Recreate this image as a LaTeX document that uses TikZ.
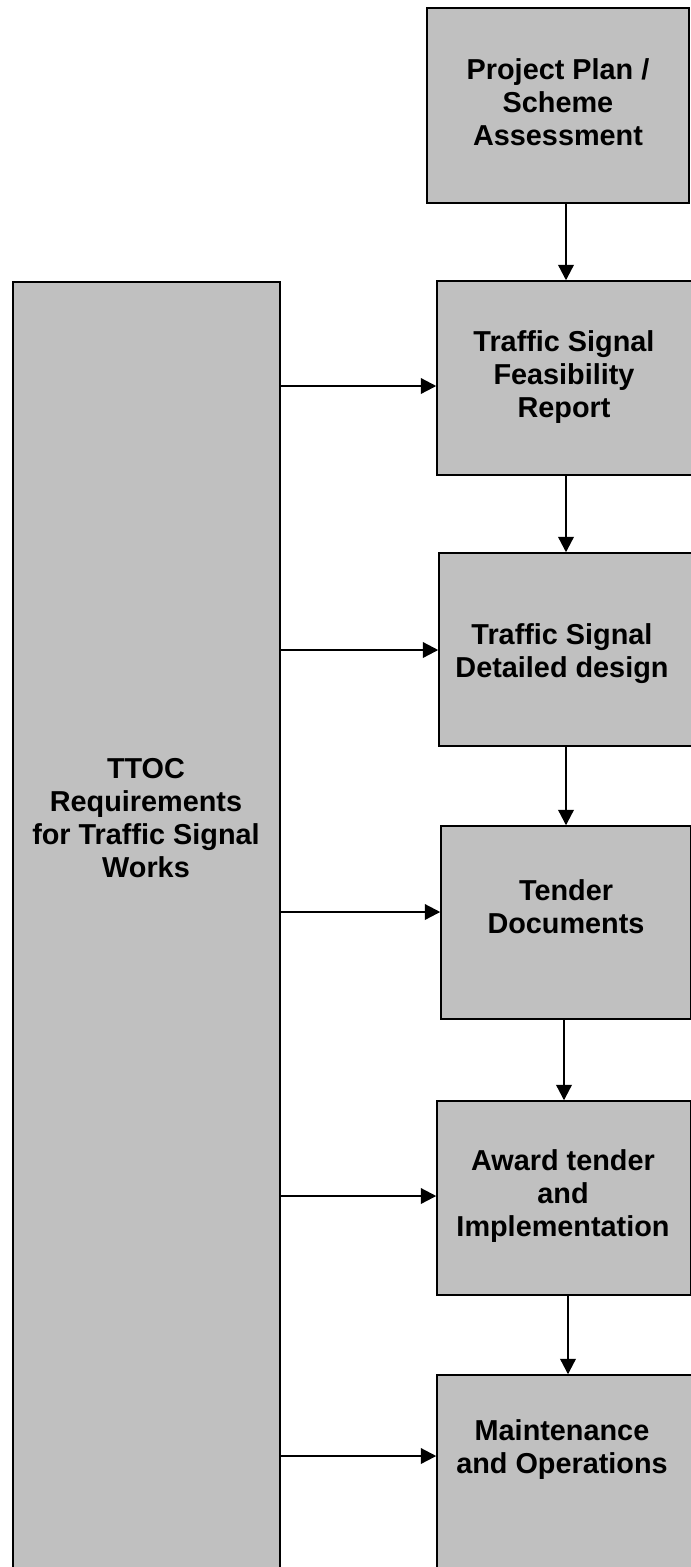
\documentclass[tikz,border=0pt]{standalone}
\usepackage{fontspec}
\setmainfont{Liberation Sans}
\usetikzlibrary{arrows.meta}

\definecolor{panelgrey}{RGB}{192,192,192}

\begin{document}
\begin{tikzpicture}[x=0.025cm, y=-0.025cm,
    panel/.style={draw=black, fill=panelgrey, line width=1pt, inner sep=0pt},
    caption/.style={font=\bfseries\fontsize{20.5}{23.5}\selectfont, align=center},
    flow/.style={line width=1.6pt, -{Triangle[length=11pt, width=11pt]}}]

\useasboundingbox (0,0) rectangle (691,1567);

% right column
\node[panel, minimum width=6.55cm,  minimum height=4.875cm] (proj)  at (558,105.5) {};
\node[panel, minimum width=6.45cm,  minimum height=4.85cm]  (feas)  at (566,378)   {};
\node[panel, minimum width=6.35cm,  minimum height=4.825cm] (det)   at (566,649.5) {};
\node[panel, minimum width=6.25cm,  minimum height=4.825cm] (tend)  at (566,922.5) {};
\node[panel, minimum width=6.35cm,  minimum height=4.85cm]  (award) at (564,1198)  {};
\node[panel, minimum width=6.55cm,  minimum height=5.5cm]   (maint) at (568,1485)  {};

% left column
\node[panel, minimum width=6.675cm, minimum height=32.8cm] (ttoc) at (146.5,938) {};

% texts
\node[caption] (projT)  at (558,102)  {Project Plan /\\Scheme\\Assessment};
\node[caption] (feasT)  at (564,377)  {Traffic Signal\\Feasibility\\Report};
\node[caption] (detT)   at (562,654)  {Traffic Signal\\Detailed design};
\node[caption] (tendT)  at (566,907)  {Tender\\Documents};
\node[caption] (awardT) at (563,1196) {Award tender\\and\\Implementation};
\node[caption] (maintT) at (562,1450) {Maintenance\\and Operations};
\node[caption] (ttocT)  at (146,818)  {TTOC\\Requirements\\for Traffic Signal\\Works};

% down the column
\draw[flow] (proj.south -| feas.north) -- (feas.north);
\draw[flow] (feas.south -| det.north)  -- (det.north);
\draw[flow] (det.south -| tend.north)  -- (tend.north);
\draw[flow] (tend.south -| award.north) -- (award.north);
\draw[flow] (award.south -| maint.north) -- (maint.north);

% requirements feed each stage
\draw[flow] (ttoc.east |- 0,386)  -- (feas.west |- 0,386);
\draw[flow] (ttoc.east |- 0,650)  -- (det.west |- 0,650);
\draw[flow] (ttoc.east |- 0,912)  -- (tend.west |- 0,912);
\draw[flow] (ttoc.east |- 0,1196) -- (award.west |- 0,1196);
\draw[flow] (ttoc.east |- 0,1456) -- (maint.west |- 0,1456);

\end{tikzpicture}
\end{document}
